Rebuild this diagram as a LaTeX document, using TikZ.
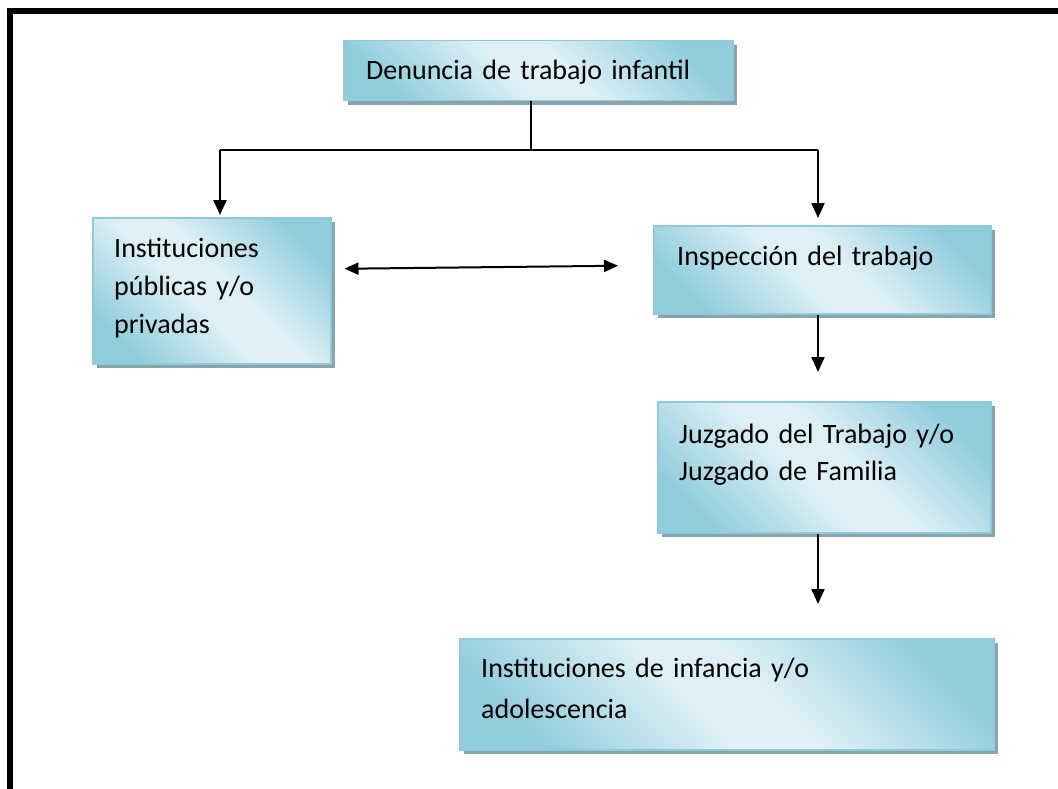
\documentclass[tikz,border=0pt]{standalone}
\usepackage{fontspec}
\setmainfont{Carlito}
\usetikzlibrary{arrows.meta,shadows,calc}
\definecolor{boxdark}{RGB}{146,205,221}
\definecolor{boxlight}{RGB}{222,240,245}
\definecolor{boxline}{RGB}{143,202,218}
\definecolor{shadowgray}{RGB}{138,164,172}
\pgfdeclareverticalshading{boxshade}{100bp}{color(0bp)=(boxdark); color(24bp)=(boxdark); color(45bp)=(boxlight); color(55bp)=(boxlight); color(76bp)=(boxdark); color(100bp)=(boxdark)}
\begin{document}
\begin{tikzpicture}[x=1pt,y=-1pt,
  flowbox/.style={draw=boxline, line width=1.5pt,
    shade, shading=boxshade, shading angle=-45,
    drop shadow={shadow xshift=4pt, shadow yshift=-4pt, fill=shadowgray, opacity=1},
    anchor=north west, inner sep=0pt},
  flowtext/.style={anchor=base west, inner sep=0pt, align=left, text width=#1},
  arr/.style={line width=2pt, -{Triangle[length=15pt,width=13pt]}},
  darr/.style={line width=2pt, {Triangle[length=14pt,width=12pt]}-{Triangle[length=14pt,width=12pt]}},
  link/.style={line width=2pt}]
\useasboundingbox (0,0) rectangle (1058,789);
% frame
\draw[line width=6pt, line join=miter] (10,789) -- (10,11) -- (1058,11);

% boxes
\node[flowbox, minimum width=389pt, minimum height=60pt] (den) at (343,40) {};
\node[flowtext=380pt, font=\fontsize{28}{38}\selectfont] (dent) at (366,80) {Denuncia de trabajo infantil};

\node[flowbox, minimum width=238pt, minimum height=146pt] (pub) at (92,217) {};
\node[flowtext=220pt, font=\fontsize{28}{38}\selectfont] (pubt) at (114,257) {Instituciones\\públicas y/o\\privadas};

\node[flowbox, minimum width=337pt, minimum height=88pt] (insp) at (653,225) {};
\node[flowtext=310pt, font=\fontsize{28}{38}\selectfont] (inspt) at (677,265) {Inspección del trabajo};

\node[flowbox, minimum width=333pt, minimum height=131pt] (juz) at (657,401) {};
\node[flowtext=310pt, font=\fontsize{28}{37}\selectfont] (juzt) at (679,443) {Juzgado del Trabajo y/o\\Juzgado de Familia};

\node[flowbox, minimum width=534pt, minimum height=111pt] (inf) at (459,638) {};
\node[flowtext=500pt, font=\fontsize{28}{41}\selectfont] (inft) at (481,677) {Instituciones de infancia y/o\\adolescencia};

% connectors
\coordinate (split) at (531,150);
\coordinate (lt) at (220,150);
\coordinate (rt) at (818,150);
\draw[line width=1.5pt] (den.south -| split) -- (split);
\draw[link] (lt) -- (rt);
\draw[arr, shorten >=2pt] (lt) -- (lt |- pub.north);
\draw[arr, shorten >=7pt] (rt) -- (rt |- insp.north);
\draw[darr] ([shift={(13,-22)}]pub.east) -- ([shift={(-35,-4)}]insp.west);
\draw[arr, shorten >=29pt] (insp.south -| rt) -- (juz.north -| rt);
\draw[arr, shorten >=34pt] (juz.south -| rt) -- (inf.north -| rt);
\end{tikzpicture}
\end{document}
